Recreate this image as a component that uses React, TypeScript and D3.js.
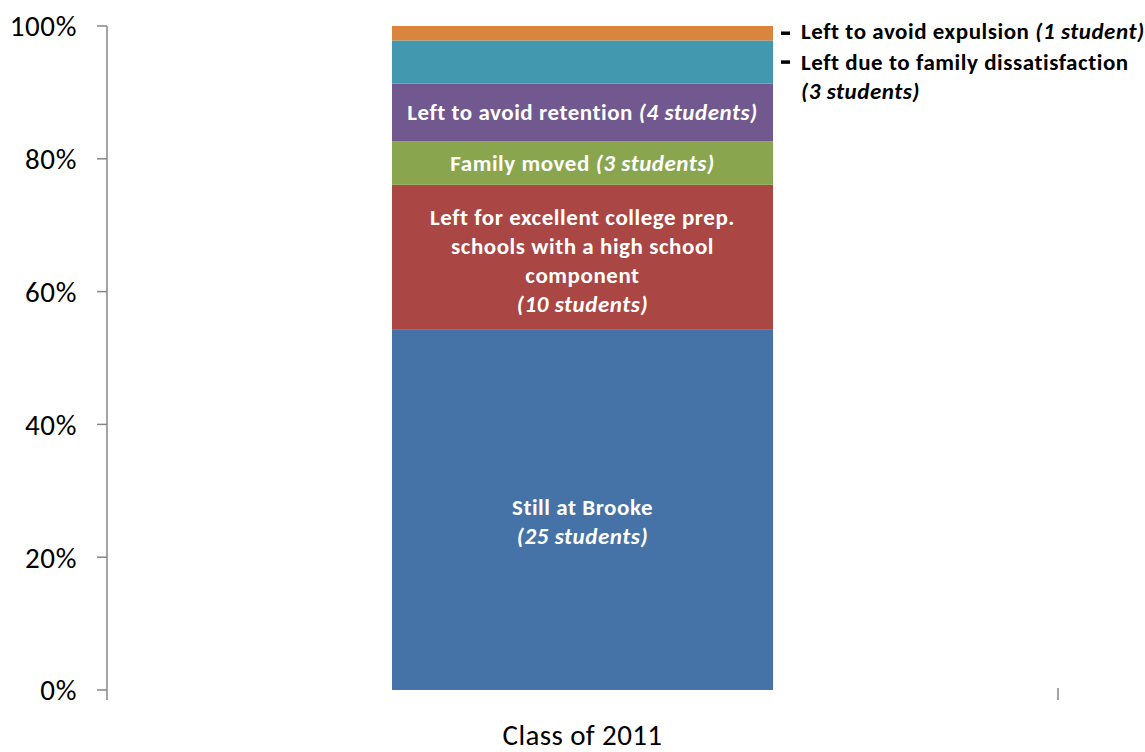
import React from "react";
import * as d3 from "d3";

const categories = ["Class of 2011"];
const segmentNames = [
  "Still at Brooke",
  "Left for excellent college prep. schools",
  "Family moved",
  "Left to avoid retention",
  "Left due to family dissatisfaction",
  "Left to avoid expulsion",
];
const segmentCounts = [25, 10, 3, 4, 3, 1];
const segmentColors = ["#4572A7", "#AA4643", "#89A54E", "#71588F", "#4198AF", "#DB843D"];
// Inside labels: arrays of [text, italic] parts per line
const insideLabels: [string, boolean][][][] = [
  [[["Still at Brooke", false]], [["(25 students)", true]]],
  [
    [["Left for excellent college prep.", false]],
    [["schools with a high school", false]],
    [["component", false]],
    [["(10 students)", true]],
  ],
  [[["Family moved ", false], ["(3 students)", true]]],
  [[["Left to avoid retention ", false], ["(4 students)", true]]],
  [],
  [],
];
const outsideLabels: [string, boolean][][][] = [
  [], [], [], [],
  [[["Left due to family dissatisfaction", false]], [["(3 students)", true]]],
  [[["Left to avoid expulsion ", false], ["(1 student)", true]]],
];
const labelShift = [12, 3, 0, -1, 0, -2];
const yTicks = [0, 0.2, 0.4, 0.6, 0.8, 1.0];

const FONT = "Carlito, Calibri, Lato, 'Open Sans', sans-serif";

export default function App() {
  const W = 1145, H = 752;
  const y = d3.scaleLinear().domain([0, 1]).range([690, 26]);
  const x = d3.scaleBand().domain(categories).range([107, 1058]).padding(0.6);
  const total = d3.sum(segmentCounts);
  const series = d3.stack<number[]>().keys(segmentNames.map((_, i) => String(i)))
    .value((d, k) => d[+k] / total)([segmentCounts]);
  const bx = 392, bw = 381;
  const lh = 29;
  const labelFont = 23;
  const ls = 0.55;
  return (
    <svg width={W} height={H} style={{ position: "absolute", left: 0, top: 0, background: "#fff" }} fontFamily={FONT}>
      {/* axis */}
      <line x1={107} x2={107} y1={26} y2={700} stroke="#868686" strokeWidth={1.5} />
      {yTicks.map((t) => (
        <g key={t}>
          <line x1={97} x2={107} y1={y(t)} y2={y(t)} stroke="#868686" strokeWidth={1.5} />
          <text x={77} y={y(t)} dy="0.36em" textAnchor="end" fontSize={29} fill="#000" letterSpacing={0.6}>
            {d3.format(".0%")(t)}
          </text>
        </g>
      ))}
      <line x1={1058} x2={1058} y1={688} y2={700} stroke="#868686" strokeWidth={1.5} />
      {series.map((s, i) => {
        const d = s[0];
        const y0 = y(d[0]), y1 = y(d[1]);
        const cy = (y0 + y1) / 2;
        const lines = insideLabels[i];
        const out = outsideLabels[i];
        return (
          <g key={i}>
            <rect x={bx} width={bw} y={y1} height={y0 - y1} fill={segmentColors[i]} />
            {lines.map((ln, j) => (
              <text key={j} x={bx + bw / 2} y={cy + labelShift[i] + (j - (lines.length - 1) / 2) * lh}
                dy="0.35em" textAnchor="middle" fontSize={labelFont} fontWeight="bold" fill="#fff" letterSpacing={ls}>
                {ln.map(([t, it], k) => (
                  <tspan key={k} fontStyle={it ? "italic" : "normal"}>{t}</tspan>
                ))}
              </text>
            ))}
            {out.length > 0 && (
              <g>
                <line x1={781} x2={790} y1={cy} y2={cy} stroke="#000" strokeWidth={3.5} />
                {out.map((ln, j) => (
                  <text key={j} x={801} y={cy + labelShift[i] + j * lh} dy="0.35em" textAnchor="start"
                    fontSize={labelFont} fontWeight="bold" fill="#000" letterSpacing={ls}>
                    {ln.map(([t, it], k) => (
                      <tspan key={k} fontStyle={it ? "italic" : "normal"}>{t}</tspan>
                    ))}
                  </text>
                ))}
              </g>
            )}
          </g>
        );
      })}
      <text x={(x(categories[0]) ?? 0) + x.bandwidth() / 2} y={745} textAnchor="middle" fontSize={29} fill="#000" letterSpacing={0.4}>
        {categories[0]}
      </text>
    </svg>
  );
}
